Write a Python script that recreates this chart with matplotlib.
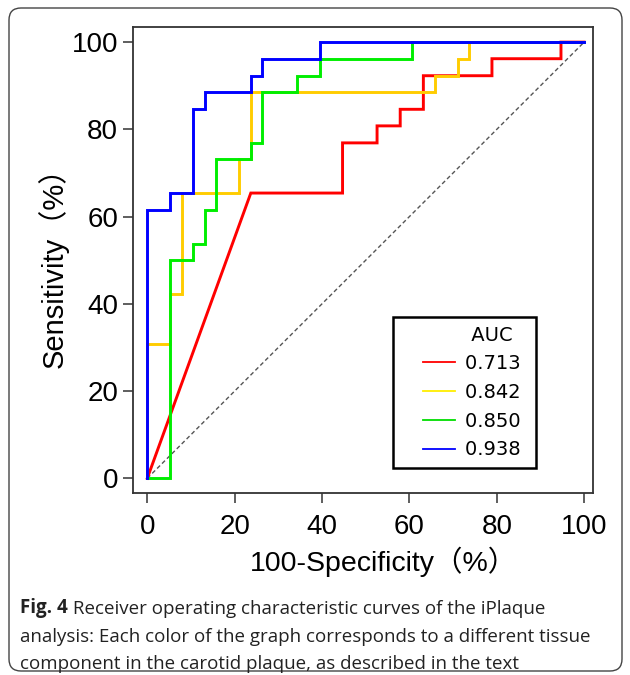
"""
ROC curves of the iPlaque analysis (Fig. 4 recreation).
"""

import matplotlib

matplotlib.use("Agg")
import matplotlib.pyplot as plt  # noqa: E402
from matplotlib.legend_handler import HandlerLine2D  # noqa: E402
from matplotlib.lines import Line2D  # noqa: E402
from matplotlib.patches import FancyBboxPatch  # noqa: E402
from matplotlib.transforms import IdentityTransform  # noqa: E402

# ROC vertices, in percent (100-specificity, sensitivity)
red_x = [0, 23.7, 44.7, 44.7, 52.6, 52.6, 57.9, 57.9, 63.2, 63.2, 78.9, 78.9, 94.7, 94.7, 100]
red_y = [0, 65.4, 65.4, 76.9, 76.9, 80.8, 80.8, 84.6, 84.6, 92.3, 92.3, 96.2, 96.2, 100, 100]

yellow_x = [0, 0, 5.3, 5.3, 7.9, 7.9, 21.1, 21.1, 23.7, 23.7, 65.8, 65.8, 71.1, 71.1, 73.7, 73.7, 100]
yellow_y = [0, 30.8, 30.8, 42.3, 42.3, 65.4, 65.4, 73.1, 73.1, 88.5, 88.5, 92.3, 92.3, 96.2, 96.2, 100, 100]

green_x = [0, 5.3, 5.3, 10.5, 10.5, 13.2, 13.2, 15.8, 15.8, 23.7, 23.7, 26.3, 26.3,
           34.2, 34.2, 39.5, 39.5, 60.5, 60.5, 100]
green_y = [0, 0, 50, 50, 53.8, 53.8, 61.5, 61.5, 73.1, 73.1, 76.9, 76.9, 88.5,
           88.5, 92.3, 92.3, 96.2, 96.2, 100, 100]

blue_x = [0, 0, 5.3, 5.3, 10.5, 10.5, 13.2, 13.2, 23.7, 23.7, 26.3, 26.3, 39.5, 39.5, 100]
blue_y = [0, 61.5, 61.5, 65.4, 65.4, 84.6, 84.6, 88.5, 88.5, 92.3, 92.3, 96.2, 96.2, 100, 100]

auc_labels = ["0.713", "0.842", "0.850", "0.938"]
curve_colors = ["#ff0000", "#ffcc00", "#00ee00", "#0000ff"]
legend_colors = ["#ff0000", "#ffee00", "#00dd00", "#0000ff"]

ticks = [0, 20, 40, 60, 80, 100]

LABEL_FONT = ["Liberation Sans", "Noto Sans CJK SC"]


class _GapLineHandler(HandlerLine2D):
    """Legend line that leaves an empty gap on its left side."""

    def __init__(self, gap_frac=0.4, **kw):
        super().__init__(**kw)
        self.gap_frac = gap_frac

    def get_xdata(self, legend, xdescent, ydescent, width, height, fontsize):
        x0 = -xdescent + self.gap_frac * width
        x1 = -xdescent + width
        return [x0, x1], [0.5 * (x0 + x1)]


def main() -> None:
    fig = plt.figure(figsize=(6.3, 6.75), dpi=100)
    W, H = 630, 675
    ax = fig.add_axes([133.3 / W, (H - 492.7) / H, 460 / W, 465.4 / H])

    ax.plot([0, 100], [0, 100], color="#555555", lw=1.0, linestyle=(0, (3, 2)), zorder=1)
    curves = [(red_x, red_y), (yellow_x, yellow_y), (green_x, green_y), (blue_x, blue_y)]
    for (xs, ys), col in zip(curves, curve_colors):
        ax.plot(xs, ys, color=col, lw=2.1, solid_joinstyle="miter", zorder=2)

    ax.set_xlim(-3.2, 102.1)
    ax.set_ylim(-3.3, 103.4)
    ax.set_xticks(ticks)
    ax.set_yticks(ticks)
    ax.tick_params(direction="out", length=7, width=1.1, labelsize=20, color="#333333", pad=4)
    ax.tick_params(axis="x", pad=8)
    for lab in ax.get_xticklabels() + ax.get_yticklabels():
        lab.set_family("Liberation Sans")
    for sp in ax.spines.values():
        sp.set_linewidth(1.3)
        sp.set_color("#333333")

    ax.set_xlabel("100-Specificity（%）", fontsize=20.5, family=LABEL_FONT)
    ax.xaxis.set_label_coords(0.543, -0.115)
    ax.set_ylabel("Sensitivity（%）", fontsize=21, family=LABEL_FONT, labelpad=2)

    handles = [Line2D([], [], color="none")]
    handles += [Line2D([], [], color=c, lw=1.3) for c in legend_colors]
    leg = ax.legend(
        handles,
        [" AUC"] + [lab + " " for lab in auc_labels],
        loc="upper left",
        bbox_to_anchor=(0.564, 0.378),
        frameon=True,
        fancybox=False,
        edgecolor="black",
        framealpha=1,
        prop={"family": "DejaVu Sans", "size": 14},
        handlelength=2.74,
        handletextpad=0.55,
        labelspacing=0.5,
        borderpad=0.45,
        borderaxespad=0,
        handler_map={Line2D: _GapLineHandler(gap_frac=0.4)},
    )
    leg.get_frame().set_linewidth(1.8)

    # outer rounded border of the figure panel
    border = FancyBboxPatch(
        (9, 4), 613, 663,
        boxstyle="round,pad=0,rounding_size=12",
        transform=IdentityTransform(),
        facecolor="none", edgecolor="#444444", lw=1.0,
    )
    fig.patches.append(border)

    cap_kw = dict(fontsize=13.5, family="Open Sans", color="#222222", va="baseline")
    t = fig.text(20 / W, 1 - 613 / H, "Fig. 4", fontweight="bold", **cap_kw)
    ax.annotate(" Receiver operating characteristic curves of the iPlaque",
                xy=(1, 0), xycoords=t, annotation_clip=False,
                fontsize=13.5, family="Open Sans", color="#222222", va="bottom")
    fig.text(20 / W, 1 - 642 / H,
             "analysis: Each color of the graph corresponds to a different tissue", **cap_kw)
    fig.text(20 / W, 1 - 669 / H,
             "component in the carotid plaque, as described in the text", **cap_kw)

    fig.savefig("out.png", dpi=100)
    plt.close(fig)


if __name__ == "__main__":
    main()
